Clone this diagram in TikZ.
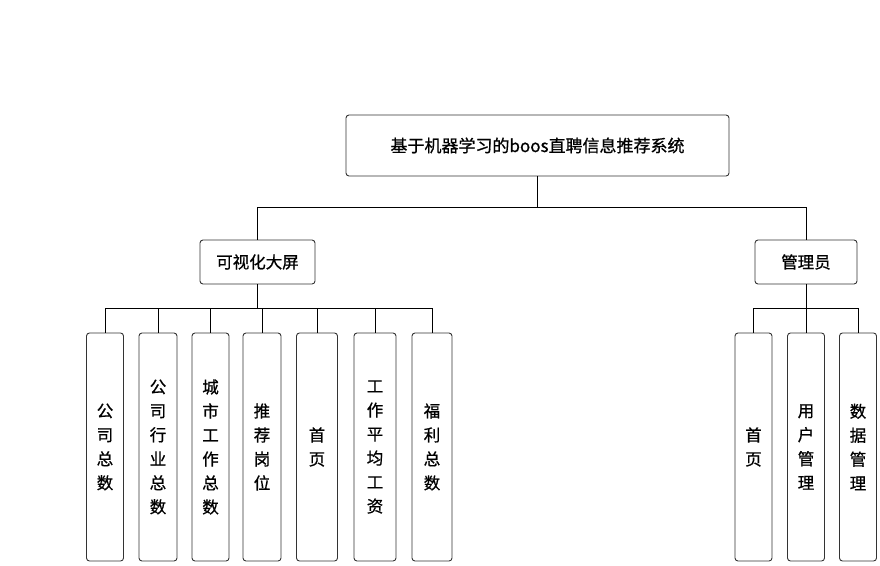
\documentclass[tikz,border=0pt]{standalone}
\usepackage{fontspec}
\newfontfamily\cjk[FakeBold=0.8]{Noto Sans CJK SC}
\usepackage{xcolor}

\begin{document}
\begin{tikzpicture}[x=1pt,y=-1pt,
  box/.style={draw=black!80,line width=0.9pt,rounded corners=3pt,inner sep=0pt,
    font=\cjk\fontsize{16.5}{24}\selectfont,align=center},
  leaf/.style={box,minimum height=228pt},
  link/.style={draw,line width=1pt}]

\useasboundingbox (0,0) rectangle (880,565);

% root
\node[box,minimum width=383pt,minimum height=61pt,font=\cjk\fontsize{17}{20}\selectfont] (root) at (537.5,145.5) {基于机器学习的boos直聘信息推荐系统};

% second level
\node[box,minimum width=115pt,minimum height=44pt] (vis) at (257.5,262) {可视化大屏};
\node[box,minimum width=102pt,minimum height=44pt] (adm) at (806,262) {管理员};

\draw[link] (root.south) -- ++(0,31) coordinate (rj);
\draw[link] (rj) -| (vis.north);
\draw[link] (rj) -| (adm.north);

% 可视化大屏
\draw[link] (vis.south) -- ++(0,24) coordinate (vj);
\foreach \name/\x/\w/\txt in {
  v1/105/37/{公\\司\\总\\数},
  v2/158/38/{公\\司\\行\\业\\总\\数},
  v3/210.5/37/{城\\市\\工\\作\\总\\数},
  v4/262/38/{推\\荐\\岗\\位},
  v5/317/41/{首\\页},
  v6/375/42/{工\\作\\平\\均\\工\\资},
  v7/432/40/{福\\利\\总\\数}} {
  \node[leaf,minimum width=\w pt] (\name) at (\x,447) {\txt};
  \draw[link] (vj) -| (\name.north);
}

% 管理员
\draw[link] (adm.south) -- ++(0,24) coordinate (aj);
\foreach \name/\x/\txt in {
  a1/753.5/{首\\页},
  a2/806/{用\\户\\管\\理},
  a3/858/{数\\据\\管\\理}} {
  \node[leaf,minimum width=37pt] (\name) at (\x,447) {\txt};
  \draw[link] (aj) -| (\name.north);
}

\end{tikzpicture}
\end{document}
